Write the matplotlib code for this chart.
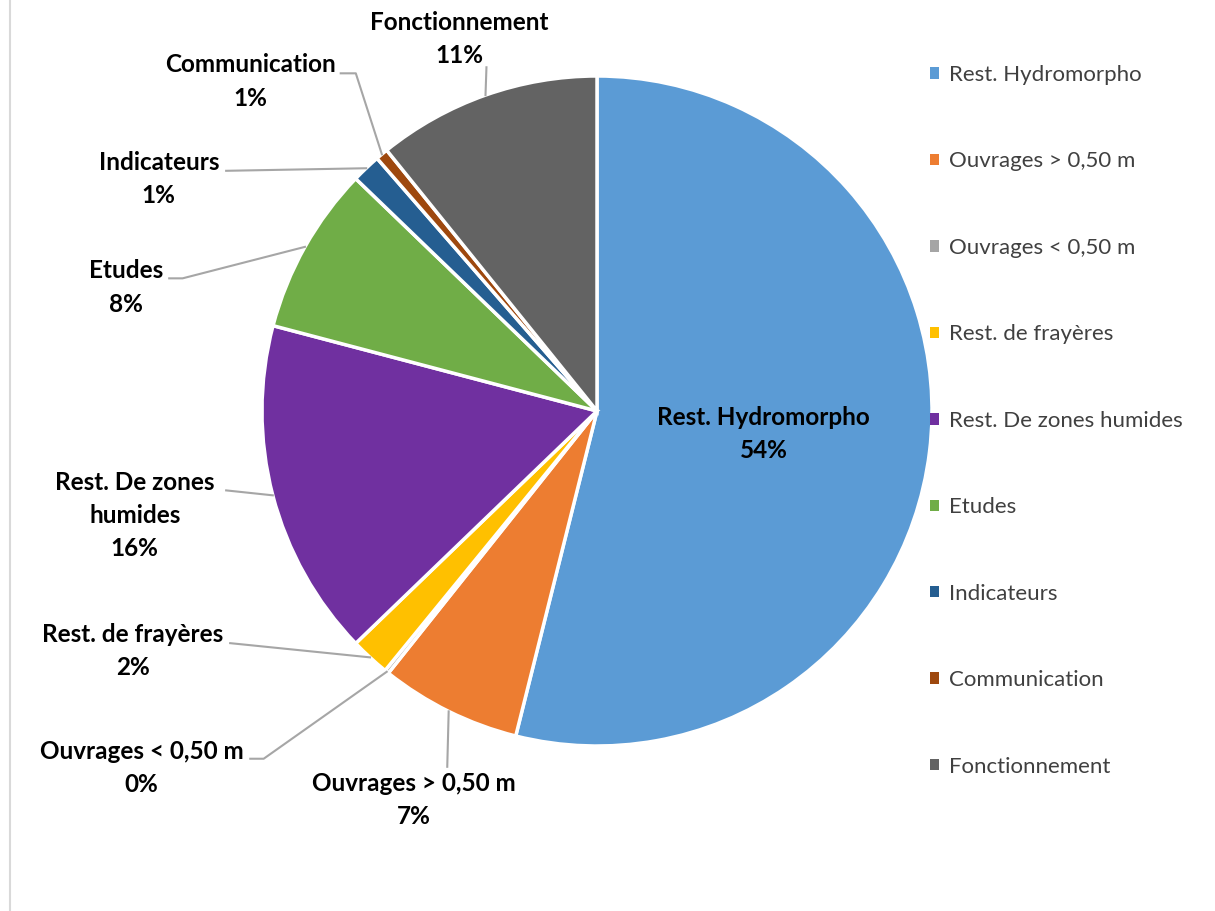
import matplotlib
matplotlib.use("Agg")
import matplotlib.pyplot as plt
from matplotlib.patches import Patch
from matplotlib.lines import Line2D
import numpy as np

plt.rcParams['font.family'] = ['Lato', 'DejaVu Sans']

categories = ["Rest. Hydromorpho", "Ouvrages > 0,50 m", "Ouvrages < 0,50 m",
              "Rest. de frayères", "Rest. De zones humides", "Etudes",
              "Indicateurs", "Communication", "Fonctionnement"]
shares = [53.9, 6.8, 0.2, 1.9, 16.3, 8.1, 1.4, 0.6, 10.8]
colors = ["#5B9BD5", "#ED7D31", "#A5A5A5", "#FFC000", "#7030A0",
          "#70AD47", "#255E91", "#9E480E", "#636363"]
label_names = ["Rest. Hydromorpho", "Ouvrages > 0,50 m", "Ouvrages < 0,50 m",
               "Rest. de frayères", "Rest. De zones\nhumides", "Etudes",
               "Indicateurs", "Communication", "Fonctionnement"]

# label block centres (data units, pie radius = 1)
label_pos = [(0.498, -0.069), (-0.546, -1.161), (-1.359, -1.065),
             (-1.386, -0.717), (-1.380, -0.312), (-1.407, 0.369),
             (-1.308, 0.693), (-1.035, 0.984), (-0.411, 1.110)]
# leader line start points on the label side (None = no leader)
leader_start = [None, (-0.447, -1.062), (-1.035, -1.038),
                (-1.095, -0.693), (-1.107, -0.237), (-1.277, 0.396),
                (-1.107, 0.717), (-0.765, 1.008), (-0.330, 1.026)]
# short horizontal elbow length before heading to the wedge
leader_elbow = [0, 0, 0.04, 0, 0, 0.04, 0, 0.045, 0]

W, H, DPI = 1215, 911, 100
fig = plt.figure(figsize=(W / DPI, H / DPI), dpi=DPI)
fig.patch.set_facecolor("white")

cx, cy, half = 597, 411, 402  # pixel centre and half-size of the pie axes
ax = fig.add_axes([(cx - half) / W, (H - cy - half) / H, 2 * half / W, 2 * half / H])

wedges, _ = ax.pie(shares, colors=colors, startangle=90, counterclock=False,
                   radius=1.0, wedgeprops=dict(edgecolor="white", linewidth=2.5))
ax.set_xlim(-1.2, 1.2)
ax.set_ylim(-1.2, 1.2)
ax.set_aspect("equal")
ax.axis("off")

fs_label = 17.5
fs_legend = 16
total = sum(shares)
cum = 0.0
for i, v in enumerate(shares):
    mid = (cum + v / 2) / total * 2 * np.pi
    cum += v
    pct = f"{round(v / total * 100):d}%"
    lx, ly = label_pos[i]
    ax.text(lx, ly, f"{label_names[i]}\n{pct}", ha="center", va="center",
            fontsize=fs_label, fontweight="bold", color="black",
            linespacing=1.55, clip_on=False)
    if leader_start[i] is not None:
        ex, ey = np.sin(mid), np.cos(mid)
        sx, sy = leader_start[i]
        xs = [sx]
        ys = [sy]
        if leader_elbow[i]:
            xs.append(sx + leader_elbow[i])
            ys.append(sy)
        xs.append(ex)
        ys.append(ey)
        ax.add_line(Line2D(xs, ys, color="#A6A6A6", linewidth=1.5, clip_on=False))

handles = [Patch(facecolor=c, edgecolor="none") for c in colors]
fig.legend(handles, categories, loc="upper left",
           bbox_to_anchor=(930 / W, 1 - 65 / H), frameon=False,
           fontsize=fs_legend, labelcolor="#404040",
           handlelength=0.42, handleheight=0.42, handletextpad=0.45,
           labelspacing=2.99, borderpad=0, borderaxespad=0)

# left frame edge of the chart area
fig.add_artist(Line2D([9.5 / W, 9.5 / W], [0, 1], color="#D9D9D9",
                      linewidth=1.5, transform=fig.transFigure))

fig.savefig("out.png", dpi=DPI, facecolor="white")
